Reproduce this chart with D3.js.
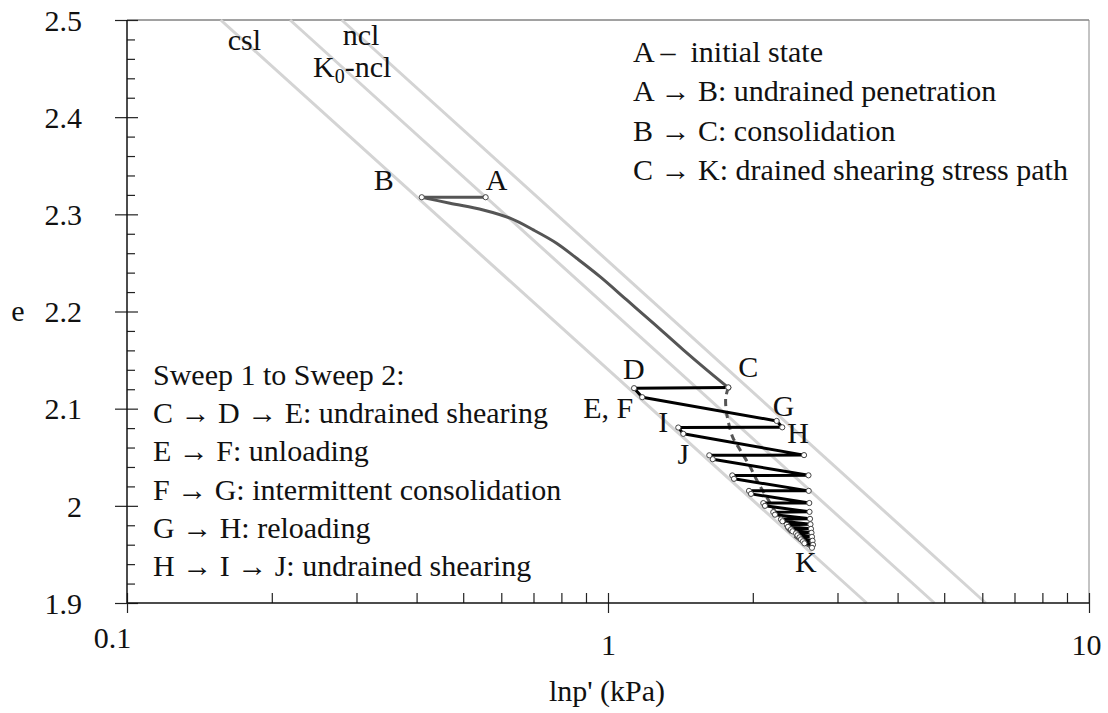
<!DOCTYPE html>
<html>
<head>
<meta charset="utf-8">
<script src="https://cdn.jsdelivr.net/npm/d3@7"></script>
<style>
    body { margin: 0; background: #fff; }
</style>
</head>
<body>
<div class="svg_container"></div>
<script>
// reference lines (p' in kPa, e)
var cslLine = [{p: 0.1566, e: 2.5}, {p: 3.449, e: 1.9}];
var k0nclLine = [{p: 0.2183, e: 2.5}, {p: 4.77, e: 1.9}];
var nclLine = [{p: 0.2795, e: 2.5}, {p: 6.10, e: 1.9}];

// A -> B (undrained penetration)
var penetrationPath = [{p: 0.5567, e: 2.3176}, {p: 0.410, e: 2.3176}];

// B -> C (consolidation)
var consolidationPath = [
    {p: 0.410, e: 2.3176}, {p: 0.4693, e: 2.3114}, {p: 0.5503, e: 2.3045},
    {p: 0.6256, e: 2.2960}, {p: 0.6994, e: 2.2840}, {p: 0.7818, e: 2.2703},
    {p: 0.8607, e: 2.2548}, {p: 0.9625, e: 2.2359}, {p: 1.094, e: 2.2119},
    {p: 1.242, e: 2.1880}, {p: 1.434, e: 2.1605}, {p: 1.604, e: 2.1399},
    {p: 1.779, e: 2.1216}
];

// C -> K sweeps (undrained shearing / unloading / consolidation / reloading)
var sweepPath = [
    {p: 1.779, e: 2.1219}, {p: 1.133, e: 2.1211}, {p: 1.178, e: 2.1118},
    {p: 2.242, e: 2.0874}, {p: 2.303, e: 2.0808}, {p: 1.400, e: 2.0806},
    {p: 1.434, e: 2.0741}, {p: 2.556, e: 2.0522}, {p: 1.624, e: 2.0520},
    {p: 1.651, e: 2.0480}, {p: 2.611, e: 2.0314}, {p: 1.813, e: 2.0313},
    {p: 1.828, e: 2.0278}, {p: 2.614, e: 2.0154}, {p: 1.964, e: 2.0154},
    {p: 1.983, e: 2.0123}, {p: 2.621, e: 2.0029}, {p: 2.103, e: 2.0028},
    {p: 2.120, e: 2.0000}, {p: 2.624, e: 1.9938}, {p: 2.206, e: 1.9935},
    {p: 2.224, e: 1.9909}, {p: 2.630, e: 1.9866}, {p: 2.289, e: 1.9861},
    {p: 2.305, e: 1.9841}, {p: 2.636, e: 1.9810}, {p: 2.352, e: 1.9805},
    {p: 2.367, e: 1.9784}, {p: 2.642, e: 1.9763}, {p: 2.402, e: 1.9758},
    {p: 2.419, e: 1.9738}, {p: 2.649, e: 1.9722}, {p: 2.460, e: 1.9717},
    {p: 2.477, e: 1.9697}, {p: 2.655, e: 1.9681}, {p: 2.501, e: 1.9676},
    {p: 2.519, e: 1.9655}, {p: 2.662, e: 1.9640}, {p: 2.543, e: 1.9635},
    {p: 2.561, e: 1.9614}, {p: 2.668, e: 1.9599}, {p: 2.655, e: 1.9568}
];

// C -> K drained shearing stress path
var drainedPath = [
    {p: 1.779, e: 2.1219}, {p: 1.757, e: 2.1111}, {p: 1.762, e: 2.0977},
    {p: 1.785, e: 2.0833}, {p: 1.819, e: 2.0700}, {p: 1.882, e: 2.0576},
    {p: 1.973, e: 2.0404}, {p: 2.054, e: 2.0234}, {p: 2.154, e: 2.0062},
    {p: 2.261, e: 1.9890}, {p: 2.390, e: 1.9733}, {p: 2.531, e: 1.9630},
    {p: 2.655, e: 1.9568}
];

var xTicks = [0.1, 1, 10];
var xTickLabels = ["0.1", "1", "10"];
var yTicks = [1.9, 2, 2.1, 2.2, 2.3, 2.4, 2.5];
var yTickLabels = ["1.9", "2", "2.1", "2.2", "2.3", "2.4", "2.5"];

var topNotes = ["A \u2013 \u00a0initial state", "A \u2192 B: undrained penetration",
    "B \u2192 C: consolidation", "C \u2192 K: drained shearing stress path"];
var sweepNotes = ["Sweep 1 to Sweep 2:", "C \u2192 D \u2192 E: undrained shearing",
    "E \u2192 F: unloading", "F \u2192 G: intermittent consolidation",
    "G \u2192 H: reloading", "H \u2192 I \u2192 J: undrained shearing"];

const WIDTH = 1108;
const HEIGHT = 713;
const LEFT = 127, TOP = 20, RIGHT = 1089, BOTTOM = 603;
const FONT = "Liberation Serif";
const FONT_SIZE = 30;

var translate = function (x, y) {
    return "translate(" + x + "," + y + ")";
};

var _x = d3.scaleLog().domain([0.1, 10]).range([LEFT, RIGHT]);
var _y = d3.scaleLinear().domain([1.9, 2.5]).range([BOTTOM, TOP]);

var line = d3.line()
    .x(function (d) { return _x(d.p); })
    .y(function (d) { return _y(d.e); });

var smooth = d3.line()
    .x(function (d) { return _x(d.p); })
    .y(function (d) { return _y(d.e); })
    .curve(d3.curveCatmullRom);

var svg = d3.select('.svg_container').append('svg')
    .attr('width', WIDTH)
    .attr('height', HEIGHT);

var addText = function (sel, x, y, t) {
    return sel.append('text')
        .attr('x', x).attr('y', y)
        .attr('font-family', FONT)
        .attr('font-size', FONT_SIZE)
        .attr('fill', '#111')
        .text(t);
};

// frame
svg.append('line').attr('x1', LEFT).attr('x2', RIGHT).attr('y1', TOP).attr('y2', TOP)
    .attr('stroke', '#444').attr('stroke-width', 1);
svg.append('line').attr('x1', RIGHT).attr('x2', RIGHT).attr('y1', TOP).attr('y2', BOTTOM)
    .attr('stroke', '#888').attr('stroke-width', 1);

// gray reference lines
var plot = svg.append('g');
[cslLine, k0nclLine, nclLine].forEach(function (d) {
    plot.append('path').attr('d', line(d))
        .attr('fill', 'none').attr('stroke', '#d4d4d4').attr('stroke-width', 3);
});

// axes
var minorX = [0.2, 0.3, 0.4, 0.5, 0.6, 0.7, 0.8, 0.9, 2, 3, 4, 5, 6, 7, 8, 9];
var minorY = d3.range(19, 25).reduce(function (a, v) {
    return a.concat([1, 2, 3, 4].map(function (k) { return (v * 10 + k * 2) / 100; }));
}, []);

var styleAxis = function (g) {
    g.select('.domain').remove();
    g.selectAll('line').attr('stroke', '#222').attr('stroke-width', 1.2);
    g.selectAll('text')
        .attr('font-family', FONT)
        .attr('font-size', FONT_SIZE)
        .attr('fill', '#111');
};

svg.append('g').attr('transform', translate(0, BOTTOM))
    .call(d3.axisBottom(_x).tickValues(xTicks).tickSize(10)
        .tickFormat(function (d, i) { return xTickLabels[i]; }))
    .call(styleAxis)
    .call(function (g) {
        g.selectAll('text').attr('dy', null)
            .attr('dx', function (d) { return d === 0.1 ? -15 : (d === 10 ? -3 : 0); })
            .attr('y', function (d) { return d === 0.1 ? 45 : 52; });
    });
svg.append('g').attr('transform', translate(0, BOTTOM))
    .call(d3.axisTop(_x).tickValues(xTicks.concat(minorX)).tickSize(10).tickFormat(''))
    .call(styleAxis);

svg.append('g').attr('transform', translate(LEFT, 0))
    .call(d3.axisLeft(_y).tickValues(yTicks).tickSize(12).tickPadding(33)
        .tickFormat(function (d, i) { return yTickLabels[i]; }))
    .call(styleAxis)
    .call(function (g) { g.selectAll('text').attr('dy', '0.34em'); });
svg.append('g').attr('transform', translate(LEFT, 0))
    .call(d3.axisRight(_y).tickValues(yTicks).tickSize(11).tickFormat(''))
    .call(styleAxis);
svg.append('g').attr('transform', translate(LEFT, 0))
    .call(d3.axisRight(_y).tickValues(minorY).tickSize(8).tickFormat(''))
    .call(styleAxis);

svg.append('line').attr('x1', LEFT).attr('x2', RIGHT).attr('y1', BOTTOM).attr('y2', BOTTOM)
    .attr('stroke', '#111').attr('stroke-width', 1.5);
svg.append('line').attr('x1', LEFT).attr('x2', LEFT).attr('y1', TOP).attr('y2', BOTTOM)
    .attr('stroke', '#111').attr('stroke-width', 1.5);

addText(svg, 607, 701, "lnp' (kPa)").attr('text-anchor', 'middle');
addText(svg, 18, 321, 'e').attr('text-anchor', 'middle');

// paths
plot.append('path').attr('d', line(penetrationPath))
    .attr('fill', 'none').attr('stroke', '#555').attr('stroke-width', 3);
plot.append('path').attr('d', smooth(consolidationPath))
    .attr('fill', 'none').attr('stroke', '#555').attr('stroke-width', 3);
plot.append('path').attr('d', smooth(drainedPath))
    .attr('fill', 'none').attr('stroke', '#555').attr('stroke-width', 3)
    .attr('stroke-dasharray', '7,5');
plot.append('path').attr('d', line(sweepPath))
    .attr('fill', 'none').attr('stroke', '#000').attr('stroke-width', 3)
    .attr('stroke-linejoin', 'round');

var markers = penetrationPath.concat([consolidationPath[consolidationPath.length - 1]], sweepPath);
plot.selectAll('circle.pt').data(markers).enter().append('circle')
    .attr('class', 'pt')
    .attr('cx', function (d) { return _x(d.p); })
    .attr('cy', function (d) { return _y(d.e); })
    .attr('r', 2.6)
    .attr('fill', '#fff')
    .attr('stroke', '#444')
    .attr('stroke-width', 1);

// point labels
var pointLabels = [
    {t: 'A', d: penetrationPath[0], dx: 0, dy: -7, a: 'start'},
    {t: 'B', d: penetrationPath[1], dx: -28, dy: -7, a: 'end'},
    {t: 'C', d: sweepPath[0], dx: 10, dy: -10, a: 'start'},
    {t: 'D', d: sweepPath[1], dx: -11, dy: -9, a: 'start'},
    {t: 'E, F', d: sweepPath[2], dx: -9, dy: 21, a: 'end'},
    {t: 'G', d: sweepPath[3], dx: -4, dy: -5, a: 'start'},
    {t: 'H', d: sweepPath[4], dx: 5, dy: 16, a: 'start'},
    {t: 'I', d: sweepPath[5], dx: -10, dy: 4, a: 'end'},
    {t: 'J', d: sweepPath[8], dx: -20, dy: 9, a: 'end'},
    {t: 'K', d: sweepPath[sweepPath.length - 1], dx: -17, dy: 24, a: 'start'}
];
pointLabels.forEach(function (d) {
    addText(svg, _x(d.d.p) + d.dx, _y(d.d.e) + d.dy, d.t).attr('text-anchor', d.a);
});

// line labels
addText(svg, _x(cslLine[0].p) + 7, _y(cslLine[0].e) + 30, 'csl');
addText(svg, _x(nclLine[0].p) + 1, _y(nclLine[0].e) + 25, 'ncl');
var k0 = addText(svg, _x(k0nclLine[0].p) + 23, _y(k0nclLine[0].e) + 57, 'K');
k0.append('tspan').attr('font-size', 20).attr('dy', 6).text('0');
k0.append('tspan').attr('dy', -6).text('-ncl');

// notes
topNotes.forEach(function (t, i) {
    addText(svg, 633, 62 + i * 39.3, t);
});
sweepNotes.forEach(function (t, i) {
    addText(svg, 153, 385 + i * 38.2, t);
});
</script>
</body>
</html>
